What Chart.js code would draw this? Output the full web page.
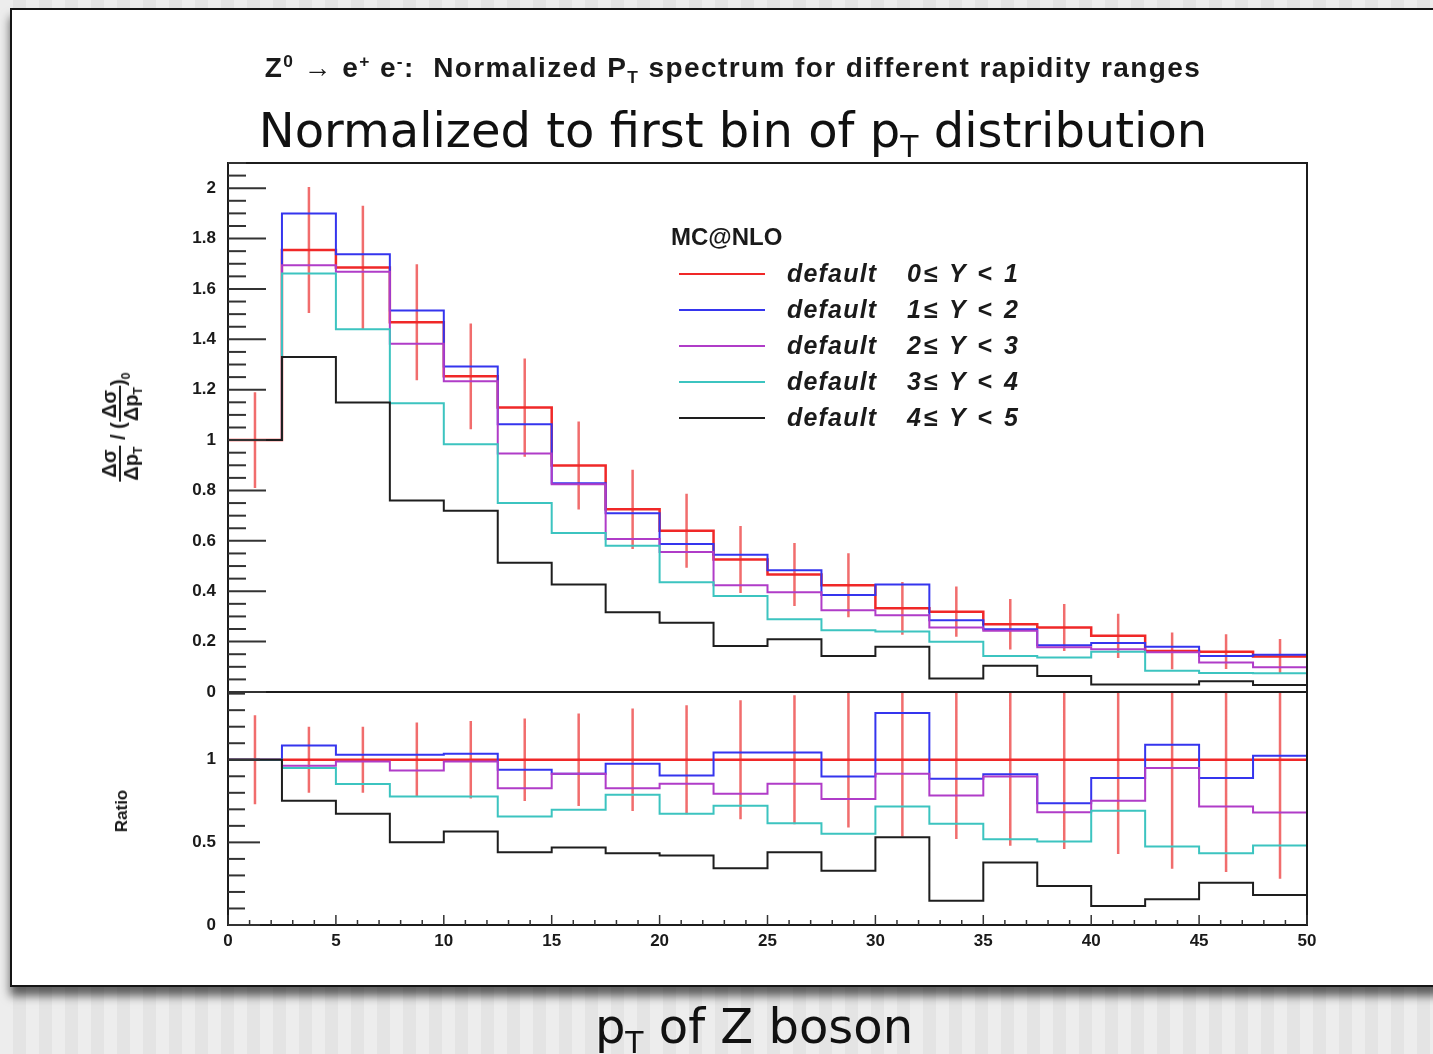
<!DOCTYPE html>
<html>
<head>
<meta charset="utf-8">
<script src="https://cdn.jsdelivr.net/npm/chart.js@4.4.1/dist/chart.umd.min.js"></script>
<style>
    html, body { margin: 0; padding: 0 }
    body {
        width: 1433px; height: 1054px; overflow: hidden; position: relative;
        background: repeating-linear-gradient(90deg, #ededed 0 13px, #e4e4e4 13px 26px);
        font-family: "Liberation Sans", Arial, sans-serif; color: #1a1a1a;
    }
    #sheet {
        position: absolute; left: 10px; top: 8px; width: 1440px; height: 975px;
        background: #fff; border: 2px solid #151515;
        box-shadow: 0 9px 9px rgba(0, 0, 0, .6);
    }
    canvas { position: absolute; left: 0; top: 0 }
    .txt { position: absolute; white-space: nowrap; transform: translate(-50%, -50%) }
    sub, sup { font-size: 62%; line-height: 0; position: relative; vertical-align: baseline }
    sup { top: -0.55em }
    sub { top: 0.35em }
    #title { left: 733px; top: 68px; font: bold 28px "Liberation Sans", Arial, sans-serif; letter-spacing: 1.4px }
    .slide { font-family: "DejaVu Sans", Verdana, sans-serif; font-size: 48px; color: #111 }
    #subtitle { left: 733px; top: 130px }
    #xTitle { left: 754px; top: 1026px }
    #yTitle { left: 120px; top: 427px; font: bold 20px "Liberation Sans", Arial, sans-serif;
        transform: translate(-50%, -50%) rotate(-90deg) }
    .frac { display: inline-block; vertical-align: middle; text-align: center; line-height: 1.0 }
    .frac > span { display: block; padding: 0 1px }
    .frac > span:first-child { border-bottom: 2px solid #222 }
    #ratioTitle { left: 122px; top: 811px; font: bold 17px "Liberation Sans", Arial, sans-serif;
        transform: translate(-50%, -50%) rotate(-90deg) }
    #legend { position: absolute; left: 671px; top: 223px }
    #legend .head { font: bold 24px "Liberation Sans", Arial, sans-serif; height: 36px }
    #legend .row { position: relative; height: 36px; font: italic bold 25px "Liberation Sans", Arial, sans-serif; letter-spacing: 1.2px; white-space: nowrap }
    #legend .swatch { position: absolute; left: 8px; top: 14px; width: 86px; height: 2px }
    #legend .name { position: absolute; left: 116px; top: 0 }
    #legend .range { position: absolute; left: 236px; top: 0; white-space: pre; letter-spacing: 2.6px }
</style>
</head>
<body>
<div id="sheet"></div>
<canvas id="chart" width="1433" height="1054"></canvas>
<div id="title" class="txt">Z<sup>0</sup> → e<sup>+</sup> e<sup>-</sup>:&nbsp; Normalized P<sub>T</sub> spectrum for different rapidity ranges</div>
<div id="subtitle" class="txt slide">Normalized to first bin of p<sub>T</sub> distribution</div>
<div id="xTitle" class="txt slide">p<sub>T</sub> of Z boson</div>
<div id="yTitle" class="txt"><span class="frac"><span>Δσ</span><span>Δp<sub>T</sub></span></span> / (<span class="frac"><span>Δσ</span><span>Δp<sub>T</sub></span></span>)<sub>0</sub></div>
<div id="ratioTitle" class="txt">Ratio</div>
<div id="legend"><div class="head">MC@NLO</div></div>

<script>
// pT bins of 2.5 GeV
const ptEdges = [0, 2.5, 5, 7.5, 10, 12.5, 15, 17.5, 20, 22.5, 25, 27.5, 30, 32.5, 35, 37.5, 40, 42.5, 45, 47.5, 50]
const rapidityRanges = ["0≤ Y < 1", "1≤ Y < 2", "2≤ Y < 3", "3≤ Y < 4", "4≤ Y < 5"]
const generator = "default"

// spectrum normalised to the first pT bin
const specY01 = [1, 1.755, 1.685, 1.468, 1.253, 1.129, 0.899, 0.725, 0.640, 0.526, 0.466, 0.424, 0.332, 0.319, 0.269, 0.256, 0.223, 0.163, 0.160, 0.141]
const specY12 = [1, 1.900, 1.738, 1.514, 1.292, 1.063, 0.829, 0.710, 0.588, 0.545, 0.483, 0.385, 0.427, 0.285, 0.249, 0.186, 0.195, 0.180, 0.143, 0.148]
const specY23 = [1, 1.694, 1.668, 1.382, 1.234, 0.947, 0.825, 0.607, 0.556, 0.424, 0.396, 0.325, 0.305, 0.256, 0.243, 0.178, 0.170, 0.158, 0.117, 0.098]
const specY34 = [1, 1.661, 1.440, 1.146, 0.984, 0.750, 0.631, 0.581, 0.436, 0.381, 0.289, 0.245, 0.240, 0.199, 0.143, 0.137, 0.160, 0.084, 0.075, 0.074]
const specY45 = [1, 1.330, 1.149, 0.760, 0.720, 0.513, 0.427, 0.317, 0.275, 0.183, 0.209, 0.143, 0.180, 0.054, 0.104, 0.064, 0.030, 0.030, 0.043, 0.028]
const specErrY01 = [0.19, 0.25, 0.245, 0.23, 0.21, 0.195, 0.175, 0.157, 0.147, 0.133, 0.125, 0.127, 0.105, 0.10, 0.10, 0.093, 0.088, 0.073, 0.069, 0.069]

// ratio to 0 ≤ Y < 1
const ratioY01 = [1, 1, 1, 1, 1, 1, 1, 1, 1, 1, 1, 1, 1, 1, 1, 1, 1, 1, 1, 1]
const ratioY12 = [1, 1.087, 1.03, 1.03, 1.036, 0.94, 0.915, 0.976, 0.905, 1.044, 1.044, 0.899, 1.283, 0.885, 0.913, 0.737, 0.889, 1.091, 0.889, 1.024]
const ratioY23 = [1, 0.964, 0.99, 0.935, 0.99, 0.828, 0.915, 0.828, 0.855, 0.794, 0.855, 0.762, 0.915, 0.784, 0.899, 0.683, 0.752, 0.95, 0.717, 0.681]
const ratioY34 = [1, 0.95, 0.853, 0.778, 0.778, 0.656, 0.697, 0.788, 0.673, 0.721, 0.616, 0.552, 0.717, 0.612, 0.519, 0.505, 0.691, 0.475, 0.434, 0.481]
const ratioY45 = [1, 0.752, 0.673, 0.501, 0.566, 0.44, 0.469, 0.434, 0.42, 0.343, 0.44, 0.329, 0.531, 0.147, 0.378, 0.236, 0.115, 0.156, 0.256, 0.182]
const ratioErrY01 = [0.27, 0.2, 0.2, 0.225, 0.235, 0.25, 0.28, 0.31, 0.33, 0.36, 0.39, 0.41, 0.465, 0.48, 0.52, 0.54, 0.57, 0.66, 0.68, 0.72]

const red = "#f02828", blue = "#3535ee", purple = "#b03cc8", cyan = "#3cc4c0", black = "#1e1e1e"
const errColor = "rgba(236, 52, 52, 0.72)"

const series = [
    { range: rapidityRanges[0], color: red, spec: specY01, ratio: ratioY01, order: 5 },
    { range: rapidityRanges[1], color: blue, spec: specY12, ratio: ratioY12, order: 4 },
    { range: rapidityRanges[2], color: purple, spec: specY23, ratio: ratioY23, order: 3 },
    { range: rapidityRanges[3], color: cyan, spec: specY34, ratio: ratioY34, order: 2 },
    { range: rapidityRanges[4], color: black, spec: specY45, ratio: ratioY45, order: 1 }
]

/** step outline of a histogram: one point per lower edge plus the last upper edge */
function histPoints(values) {
    const pts = values.map((v, i) => ({ x: ptEdges[i], y: v }))
    pts.push({ x: ptEdges[values.length], y: values[values.length - 1] })
    return pts
}

/** vertical error bars at the bin centres, separated by gaps */
function errorPoints(values, errors) {
    const pts = []
    values.forEach((v, i) => {
        const x = (ptEdges[i] + ptEdges[i + 1]) / 2
        pts.push({ x, y: v - errors[i] }, { x, y: v + errors[i] }, { x, y: null })
    })
    return pts
}

const datasets = []
for (const s of series) {
    datasets.push({
        label: `${generator} ${s.range}`, data: histPoints(s.spec), yAxisID: "yTop",
        borderColor: s.color, borderWidth: s.color === red ? 2.5 : 2, stepped: true, order: s.order
    })
    datasets.push({
        label: `${generator} ${s.range} ratio`, data: histPoints(s.ratio), yAxisID: "yRatio",
        borderColor: s.color, borderWidth: s.color === red ? 2.5 : 2, stepped: true, order: s.order
    })
}
datasets.push({ label: "stat. error", data: errorPoints(specY01, specErrY01), yAxisID: "yTop",
    borderColor: errColor, borderWidth: 2.5, order: 5 })
datasets.push({ label: "stat. error ratio", data: errorPoints(ratioY01, ratioErrY01), yAxisID: "yRatio",
    borderColor: errColor, borderWidth: 2.5, order: 5 })

const tickFont = { family: "'Liberation Sans', Arial, sans-serif", size: 17, weight: "bold" }
// ROOT prints 1 and 2, not 1.0 and 2.0
const plainNumber = v => String(Number(v.toFixed(2)))

/** inward ROOT style ticks along one scale */
function drawTicks(ctx, scale, base, major, minor, majorLen, minorLen, vertical) {
    const n = Math.round((scale.max - scale.min) / minor)
    const every = Math.round(major / minor)
    for (let i = 0; i <= n; i++) {
        const v = scale.min + i * minor
        if (v > scale.max + 1e-9) break
        const p = scale.getPixelForValue(v)
        const len = i % every === 0 ? majorLen : minorLen
        ctx.beginPath()
        if (vertical) {
            ctx.moveTo(base, p)
            ctx.lineTo(base + len, p)
        } else {
            ctx.moveTo(p, base)
            ctx.lineTo(p, base - len)
        }
        ctx.stroke()
    }
}

const rootFrame = {
    id: "rootFrame",
    afterDatasetsDraw(chart) {
        const { ctx } = chart
        const { x, yTop, yRatio } = chart.scales
        ctx.save()
        ctx.strokeStyle = "#1c1c1c"
        ctx.lineWidth = 2
        ctx.strokeRect(x.left, yTop.top, x.right - x.left, yTop.bottom - yTop.top)
        ctx.strokeRect(x.left, yRatio.top, x.right - x.left, yRatio.bottom - yRatio.top)
        ctx.strokeStyle = "#333"
        drawTicks(ctx, yTop, x.left, 0.2, 0.05, 38, 18, true)
        drawTicks(ctx, yRatio, x.left, 0.5, 0.1, 32, 17, true)
        ctx.lineWidth = 1.5
        drawTicks(ctx, x, yRatio.bottom, 5, 1, 10, 5, false)
        ctx.restore()
    }
}

const fixWidth = scale => { scale.width = 50 }

new Chart(document.getElementById("chart"), {
    type: "line",
    data: { datasets },
    options: {
        responsive: false,
        devicePixelRatio: 1,
        animation: false,
        spanGaps: false,
        layout: { padding: { left: 178, right: 126, top: 163, bottom: 99 } },
        elements: { point: { radius: 0 }, line: { tension: 0, fill: false } },
        plugins: { legend: { display: false }, tooltip: { enabled: false } },
        scales: {
            x: {
                type: "linear", min: 0, max: 50, position: "bottom",
                grid: { display: false, drawTicks: false }, border: { display: false },
                ticks: { stepSize: 5, font: tickFont, color: "#1a1a1a", padding: 6, maxRotation: 0, autoSkip: false },
                afterFit: scale => { scale.height = 30 }
            },
            yRatio: {
                type: "linear", position: "left", stack: "panels", stackWeight: 233,
                min: 0, max: 1.41,
                grid: { display: false, drawTicks: false }, border: { display: false },
                ticks: { stepSize: 0.5, includeBounds: false, font: tickFont, color: "#1a1a1a", padding: 12, callback: plainNumber },
                afterFit: fixWidth
            },
            yTop: {
                type: "linear", position: "left", stack: "panels", stackWeight: 529,
                min: 0, max: 2.1,
                grid: { display: false, drawTicks: false }, border: { display: false },
                ticks: { stepSize: 0.2, includeBounds: false, font: tickFont, color: "#1a1a1a", padding: 12, callback: plainNumber },
                afterFit: fixWidth
            }
        }
    },
    plugins: [rootFrame]
})

// legend inside the upper pad
const legend = document.getElementById("legend")
for (const s of series) {
    const row = document.createElement("div")
    row.className = "row"
    row.innerHTML = `<span class="swatch" style="background:${s.color}"></span>` +
        `<span class="name">${generator}</span><span class="range">${s.range}</span>`
    legend.appendChild(row)
}
</script>
</body>
</html>
